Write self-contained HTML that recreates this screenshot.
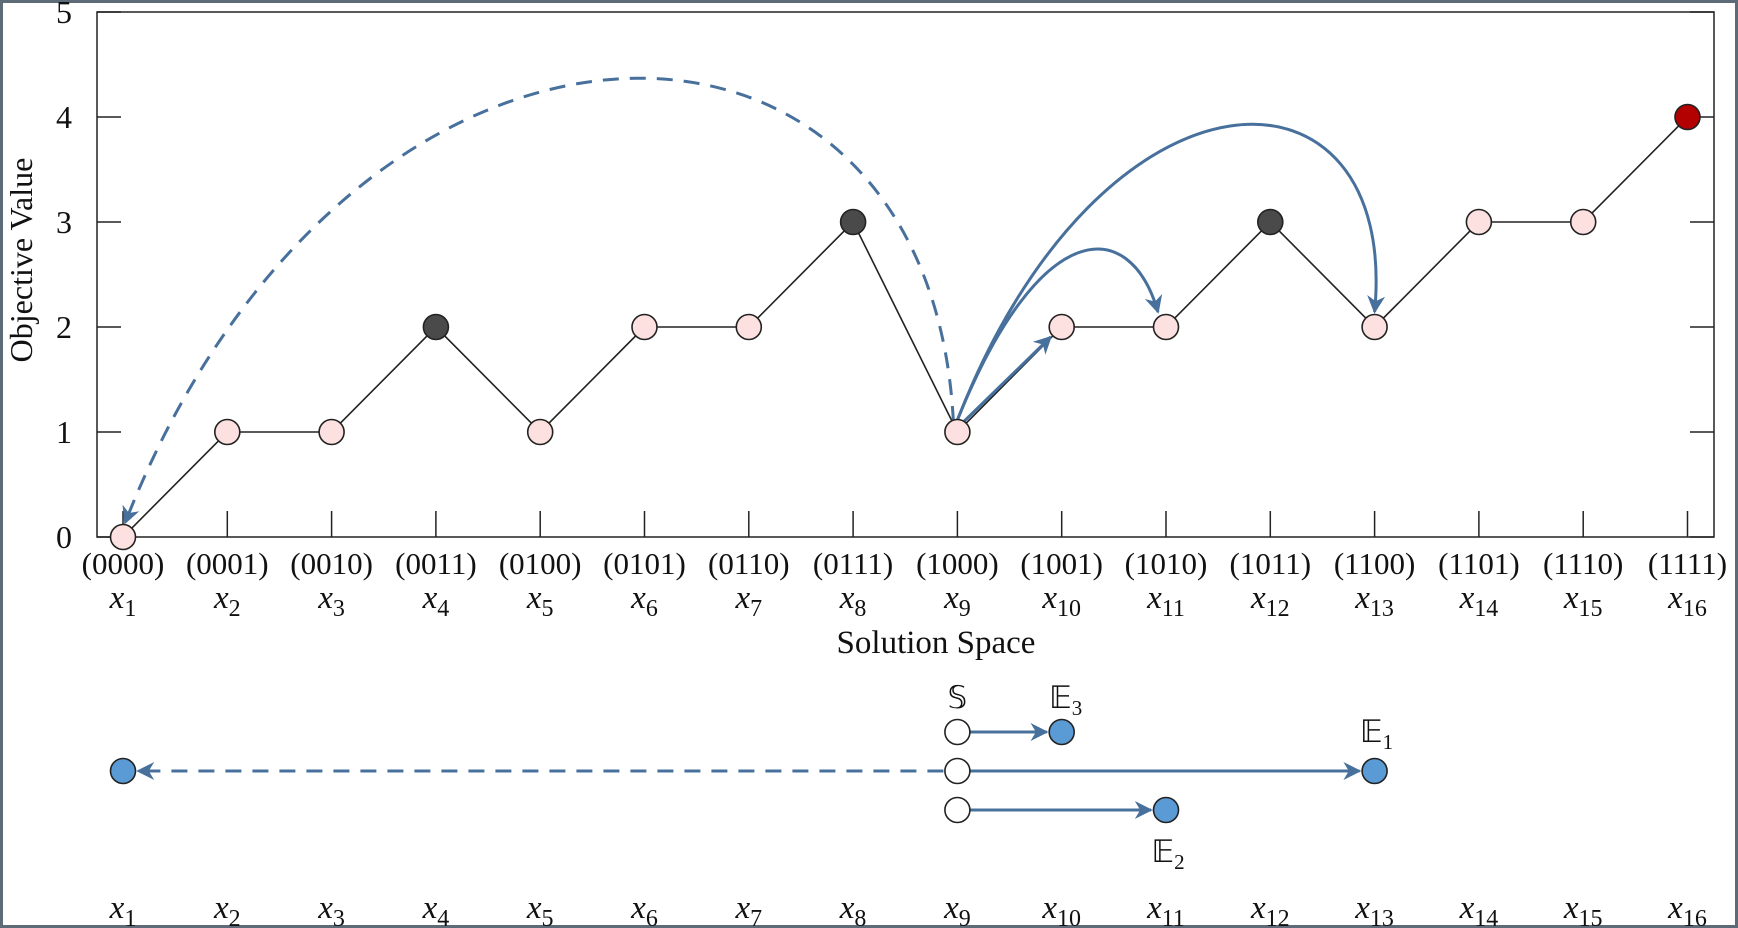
<!DOCTYPE html>
<html><head><meta charset="utf-8"><style>
html,body{margin:0;padding:0;background:#fff}
svg{display:block}
text{font-family:"Liberation Serif",serif;fill:#111}
</style></head><body>
<svg width="1738" height="928" viewBox="0 0 1738 928">
<defs>
<marker id="ah" viewBox="0 0 10 10" refX="9" refY="5" markerWidth="6" markerHeight="6" orient="auto-start-reverse"><path d="M0,0 L10,5 L0,10 L3,5 z" fill="#48709c"/></marker>
</defs>
<rect x="1.5" y="1.5" width="1735" height="925" fill="#fff" stroke="#5d6b78" stroke-width="3"/>
<g id="plot"></g>
</svg>
<script>
const categories=["0000","0001","0010","0011","0100","0101","0110","0111","1000","1001","1010","1011","1100","1101","1110","1111"];
const values=[0,1,1,2,1,2,2,3,1,2,2,3,2,3,3,4];
const kinds=["n","n","n","d","n","n","n","d","n","n","n","d","n","n","n","r"];
const yTicks=[0,1,2,3,4,5];
const NS="http://www.w3.org/2000/svg";
const g=document.getElementById('plot');
const X=i=>123+i*104.3;
const Y=v=>537-v*105;
function el(t,a,p){const e=document.createElementNS(NS,t);for(const k in a)e.setAttribute(k,a[k]);(p||g).appendChild(e);return e;}
// axes box
let ax=el('path',{d:`M97,${Y(5)} L1714,${Y(5)} L1714,${Y(0)} L97,${Y(0)} Z`,fill:'none',stroke:'#222','stroke-width':1.5});


yTicks.forEach(v=>{
 el('line',{x1:97,x2:121,y1:Y(v),y2:Y(v),stroke:'#222','stroke-width':1.5});
 el('line',{x1:1690,x2:1714,y1:Y(v),y2:Y(v),stroke:'#222','stroke-width':1.5});
 const t=el('text',{x:72,y:Y(v)+11,'font-size':32,'text-anchor':'end'});t.textContent=v;
 
 
});
categories.forEach((c,i)=>{
 el('line',{x1:X(i),x2:X(i),y1:Y(0),y2:Y(0)-26,stroke:'#222','stroke-width':1.5});
 const t=el('text',{x:X(i),y:574,'font-size':31,'text-anchor':'middle'});t.textContent='('+c+')';
 
 
 const s=el('text',{x:X(i),y:608,'font-size':33,'text-anchor':'middle'});
 s.innerHTML='<tspan font-style="italic">x</tspan><tspan font-size="24" dy="8">'+(i+1)+'</tspan>';
 
 
 const b=el('text',{x:X(i),y:918,'font-size':33,'text-anchor':'middle'});
 b.innerHTML='<tspan font-style="italic">x</tspan><tspan font-size="24" dy="8">'+(i+1)+'</tspan>';
 
 
});
let yl=el('text',{x:0,y:0,'font-size':32,'text-anchor':'middle',transform:'translate(32,260) rotate(-90)'});yl.textContent='Objective Value';


let xl=el('text',{x:936,y:653,'font-size':33,'text-anchor':'middle'});xl.textContent='Solution Space';


// line
let ln=el('polyline',{points:values.map((v,i)=>X(i)+','+Y(v)).join(' '),fill:'none',stroke:'#222','stroke-width':1.6});


// arcs
const A='#48709c';
const x9=X(8),y9=Y(values[8]);
let a1=el('path',{d:`M${x9-4},${y9-10} C${x9-28},-52 350,-52 ${X(0)+2},${Y(values[0])-14}`,fill:'none',stroke:A,'stroke-width':3,'stroke-dasharray':'16,11','marker-end':'url(#ah)'});


let a2=el('path',{d:`M${x9},${y9-12} C1103,46 1400,46 ${X(12)},${Y(values[12])-15}`,fill:'none',stroke:A,'stroke-width':3,'marker-end':'url(#ah)'});


let a3=el('path',{d:`M${x9},${y9-12} C1040,215 1130,215 ${X(10)-8},${Y(values[10])-15}`,fill:'none',stroke:A,'stroke-width':3,'marker-end':'url(#ah)'});


let a4=el('line',{x1:x9+6,y1:y9-10,x2:X(9)-11,y2:Y(values[9])+10,stroke:A,'stroke-width':3,'marker-end':'url(#ah)'});


// points
values.forEach((v,i)=>{
 const f=kinds[i]==='d'?'#4a4a4a':kinds[i]==='r'?'#b30000':'#fde0e0';
 const c=el('circle',{cx:X(i),cy:Y(v),r:12.5,fill:f,stroke:'#222','stroke-width':1.6});
 
 
});
// bottom diagram
const r1=732,r2=771,r3=810;
function bl(x1,x2,y,dash,name){const l=el('line',{x1:x1,y1:y,x2:x2,y2:y,stroke:A,'stroke-width':3,'marker-end':'url(#ah)'});if(dash)l.setAttribute('stroke-dasharray','16,11');
 
 }
bl(x9-14,X(0)+15,r2,true,'bottom-dashed-arrow');
bl(x9+13,X(9)-15,r1,false,'bottom-arrow-e3');
bl(x9+13,X(12)-15,r2,false,'bottom-arrow-e1');
bl(x9+13,X(10)-15,r3,false,'bottom-arrow-e2');
[[x9,r1,'#fff'],[x9,r2,'#fff'],[x9,r3,'#fff'],[X(9),r1,'#5b9bd5'],[X(12),r2,'#5b9bd5'],[X(10),r3,'#5b9bd5'],[X(0),r2,'#5b9bd5']].forEach((p,k)=>{
 const c=el('circle',{cx:p[0],cy:p[1],r:12.5,fill:p[2],stroke:'#222','stroke-width':1.6});
 
 
});
function lab(x,y,s,sub,name){const t=el('text',{x:x,y:y,'font-size':31,'text-anchor':'middle'});t.innerHTML=s+(sub?'<tspan font-size="21" dy="7">'+sub+'</tspan>':'');
 
 }
lab(x9,708,'𝕊','','label-s');
lab(X(9)+4,708,'𝔼','3','label-e3');
lab(X(12)+2,742,'𝔼','1','label-e1');
lab(X(10)+2,862,'𝔼','2','label-e2');
</script>
</body></html>
